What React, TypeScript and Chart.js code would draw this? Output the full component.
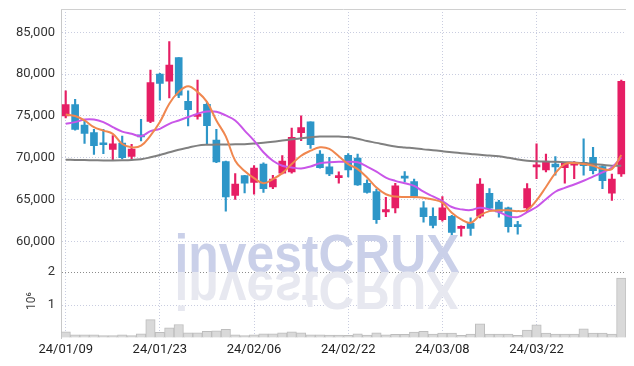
import React, { useEffect, useRef } from 'react';
import { Chart, registerables } from 'chart.js';

Chart.register(...registerables);

const dates = [
  '24/01/09', '24/01/10', '24/01/11', '24/01/12', '24/01/15', '24/01/16', '24/01/17', '24/01/18', '24/01/19', '24/01/22',
  '24/01/23', '24/01/24', '24/01/25', '24/01/26', '24/01/29', '24/01/30', '24/01/31', '24/02/01', '24/02/02', '24/02/05',
  '24/02/06', '24/02/07', '24/02/08', '24/02/13', '24/02/14', '24/02/15', '24/02/16', '24/02/19', '24/02/20', '24/02/21',
  '24/02/22', '24/02/23', '24/02/26', '24/02/27', '24/02/28', '24/02/29', '24/03/04', '24/03/05', '24/03/06', '24/03/07',
  '24/03/08', '24/03/11', '24/03/12', '24/03/13', '24/03/14', '24/03/15', '24/03/18', '24/03/19', '24/03/20', '24/03/21',
  '24/03/22', '24/03/25', '24/03/26', '24/03/27', '24/03/28', '24/03/29', '24/04/01', '24/04/02', '24/04/03', '24/04/04',
];

const openP = [
  75000, 76350, 73900, 73000, 71750, 71000, 71750, 70150, 72700, 74350,
  80000, 79150, 82000, 76750, 74950, 76400, 72100, 69550, 65500, 67850,
  67050, 69250, 66500, 68150, 68300, 73000, 74300, 70450, 68900, 67600,
  70300, 69950, 66950, 65950, 63500, 64000, 67750, 67150, 64000, 63000,
  62600, 63000, 61550, 62150, 63000, 65750, 64700, 64000, 61850, 64000,
  68900, 68550, 69250, 68800, 69100, 69450, 70050, 68950, 65750, 68050,
];
const highP = [
  78000, 77000, 74500, 73400, 73400, 72650, 72600, 71600, 74600, 80500,
  80100, 83900, 82000, 78000, 79300, 76600, 73400, 69600, 68100, 67900,
  69050, 69400, 67900, 70250, 73550, 75000, 74300, 70850, 70050, 68300,
  70500, 70450, 67350, 66250, 65250, 66950, 68350, 67450, 64750, 64000,
  65350, 63100, 61850, 62800, 67500, 66300, 64900, 64100, 62400, 66900,
  71650, 70450, 70150, 69450, 69550, 72250, 71250, 69050, 68050, 79300,
];
const lowP = [
  74750, 73300, 71700, 70400, 70500, 69700, 69850, 69850, 72000, 74200,
  76900, 77150, 77200, 73800, 74600, 71650, 69400, 63600, 65000, 65800,
  65650, 65850, 66300, 68050, 68150, 72050, 71100, 68750, 67850, 66950,
  67700, 66700, 65750, 62150, 62950, 63400, 67100, 65200, 62300, 61600,
  62400, 60800, 60600, 60700, 62800, 63700, 62900, 61100, 60850, 63500,
  67500, 68300, 67900, 66950, 67500, 67900, 68050, 66300, 64900, 67750,
];
const closeP = [
  76350, 73400, 72900, 71450, 71550, 71650, 70000, 71050, 72500, 79000,
  78900, 81100, 77500, 75750, 75150, 73850, 69500, 65300, 66850, 66950,
  68750, 66300, 67450, 69600, 72450, 73600, 71550, 68800, 68050, 67850,
  68550, 66750, 65850, 62600, 63800, 66650, 67550, 65250, 62950, 61900,
  64000, 61050, 61800, 61550, 66850, 63950, 63500, 61750, 61750, 66300,
  69100, 69450, 68900, 69350, 69450, 69050, 68450, 67250, 67450, 79150,
];

const ma5 = [
  75180, 74990, 74460, 73660, 73250, 72860, 71650, 71250, 71450, 72650,
  74270, 76470, 77880, 78560, 77880, 76680, 74460, 72550, 69650, 68400,
  67550, 66950, 67430, 68160, 69240, 70240, 70840, 71250, 71050, 70170,
  69240, 68640, 67640, 66430, 65630, 65350, 65300, 65300, 65200, 65000,
  64620, 63420, 62610, 62210, 63100, 63610, 63700, 63700, 63610, 63750,
  64900, 66500, 68150, 69240, 69360, 69240, 69040, 68640, 68640, 70330,
];
const ma20 = [
  74060, 74260, 74580, 74580, 74260, 73660, 73130, 72860, 72580, 73180,
  73460, 74060, 74460, 74870, 75270, 75540, 75500, 75060, 74460, 73250,
  72050, 70650, 69640, 69040, 68840, 68720, 68960, 69330, 69450, 69520,
  69520, 69450, 68940, 68330, 67630, 67230, 66950, 66630, 65930, 65370,
  64820, 64100, 63820, 63730, 64020, 63820, 63500, 63010, 62890, 63500,
  64100, 65030, 65930, 66390, 66800, 67240, 67740, 68240, 68840, 70050,
];
const ma60 = [
  69760, 69740, 69720, 69700, 69680, 69680, 69700, 69740, 69820, 70050,
  70330, 70650, 70960, 71200, 71450, 71550, 71570, 71580, 71600, 71620,
  71700, 71780, 71900, 72050, 72200, 72340, 72450, 72530, 72540, 72530,
  72480, 72280, 72000, 71780, 71550, 71350, 71230, 71130, 71000, 70900,
  70780, 70650, 70550, 70450, 70350, 70270, 70170, 70000, 69800, 69650,
  69580, 69540, 69520, 69470, 69420, 69360, 69250, 69150, 69050, 69030,
];

const volume = [
  190000, 100000, 100000, 100000, 70000, 70000, 100000, 70000, 130000, 560000,
  170000, 310000, 410000, 160000, 160000, 200000, 220000, 260000, 100000, 70000,
  100000, 130000, 130000, 160000, 190000, 160000, 100000, 100000, 90000, 90000,
  80000, 130000, 90000, 160000, 100000, 110000, 110000, 180000, 200000, 120000,
  150000, 150000, 80000, 120000, 430000, 120000, 120000, 120000, 80000, 240000,
  400000, 150000, 120000, 120000, 120000, 280000, 150000, 150000, 120000, 1820000,
];

const priceTicks = [60000, 65000, 70000, 75000, 80000, 85000];
const volumeTicks = [0, 1000000, 2000000];

const RED = '#e61e64';
const BLUE = '#2d96c8';
const GRID = '#c9cde0';
const FONT = "Roboto, sans-serif";

export default function App() {
  const ref = useRef<HTMLCanvasElement>(null);

  useEffect(() => {
    if (!ref.current) return;
    const colors = closeP.map((c, i) => (c >= openP[i] ? RED : BLUE));
    const wicks = dates.map((_, i) => [lowP[i], highP[i]]);
    const bodies = dates.map((_, i) => [openP[i], closeP[i]]);

    const overlay = {
      id: 'overlay',
      beforeDatasetsDraw(chart: any) {
        const ctx = chart.ctx as CanvasRenderingContext2D;
        const yS = chart.scales.y;
        const text = 'investCRUX';
        ctx.save();
        ctx.font = "bold 54px 'Liberation Sans', Arial, sans-serif";
        const w = ctx.measureText(text).width;
        const sx = 285 / w;
        const cx = chart.width / 2;
        const base = yS.bottom;
        ctx.textAlign = 'center';
        ctx.textBaseline = 'alphabetic';
        ctx.save();
        ctx.translate(cx, base);
        ctx.scale(sx, 1);
        ctx.fillStyle = '#cad0e9';
        ctx.fillText(text, 0, 0);
        ctx.restore();
        ctx.save();
        ctx.translate(cx, base);
        ctx.scale(sx, -1);
        ctx.fillStyle = '#e7e8f0';
        ctx.fillText(text, 0, 0);
        ctx.restore();
        ctx.restore();
      },
      afterDraw(chart: any) {
        const ctx = chart.ctx as CanvasRenderingContext2D;
        const area = chart.chartArea;
        ctx.save();
        ctx.strokeStyle = '#d0d0d0';
        ctx.lineWidth = 1;
        ctx.beginPath();
        ctx.moveTo(area.left, area.top + 0.5);
        ctx.lineTo(area.right, area.top + 0.5);
        ctx.stroke();
        const yv = chart.scales.yv;
        ctx.translate(24, (yv.top + yv.bottom) / 2 - 4);
        ctx.rotate(-Math.PI / 2);
        ctx.fillStyle = '#444';
        ctx.font = '12px Roboto, sans-serif';
        ctx.textAlign = 'center';
        ctx.textBaseline = 'middle';
        ctx.fillText('10\u2076', 0, 0);
        ctx.restore();
      },
    };

    const fitY = (s: any) => {
      s.width = 53;
      s.paddingTop = 0;
      s.paddingBottom = 0;
    };

    const chart = new Chart(ref.current, {
      type: 'bar',
      data: {
        labels: dates,
        datasets: [
          {
            type: 'line',
            data: ma5,
            borderColor: '#f0874f',
            borderWidth: 2,
            pointRadius: 0,
            tension: 0.4,
            yAxisID: 'y',
            order: 0,
          } as any,
          {
            type: 'line',
            data: ma20,
            borderColor: '#c956e8',
            borderWidth: 2,
            pointRadius: 0,
            tension: 0.4,
            yAxisID: 'y',
            order: 0,
          } as any,
          {
            type: 'line',
            data: ma60,
            borderColor: '#808080',
            borderWidth: 2,
            pointRadius: 0,
            tension: 0.4,
            yAxisID: 'y',
            order: 0,
          } as any,
          {
            type: 'bar',
            data: bodies,
            backgroundColor: colors,
            barThickness: 7,
            minBarLength: 2,
            grouped: false,
            yAxisID: 'y',
            order: 1,
          } as any,
          {
            type: 'bar',
            data: wicks,
            backgroundColor: colors,
            barThickness: 1.5,
            grouped: false,
            yAxisID: 'y',
            order: 2,
          } as any,
          {
            type: 'bar',
            data: volume,
            backgroundColor: '#d9d9d9',
            borderColor: '#bdbdbd',
            borderWidth: 1,
            barPercentage: 1,
            categoryPercentage: 1,
            grouped: false,
            yAxisID: 'yv',
            order: 3,
          } as any,
        ],
      },
      options: {
        animation: false,
        responsive: true,
        maintainAspectRatio: false,
        layout: { padding: { top: 1, right: 0, left: 0, bottom: 0 } },
        plugins: { legend: { display: false }, tooltip: { enabled: false } },
        scales: {
          yv: {
            type: 'linear',
            position: 'left',
            stack: 'panel',
            stackWeight: 1,
            min: 0,
            max: 2000000,
            afterBuildTicks: (s: any) => {
              s.ticks = volumeTicks.map((v) => ({ value: v }));
            },
            ticks: {
              autoSkip: false,
              padding: 6,
              color: '#333',
              font: { family: FONT, size: 13 },
              callback: (v: any) => (Number(v) === 0 ? '' : String(Number(v) / 1000000)),
            },
            grid: {
              drawTicks: false,
              color: (c: any) =>
                c.tick && c.tick.value === 2000000 ? '#8c8c8c' : c.tick && c.tick.value === 1000000 ? GRID : 'rgba(0,0,0,0)',
            },
            border: { display: true, color: '#c8c8c8', dash: [1, 2] },
            afterFit: fitY,
          },
          y: {
            type: 'linear',
            position: 'left',
            stack: 'panel',
            stackWeight: 4,
            min: 56300,
            max: 87800,
            afterBuildTicks: (s: any) => {
              s.ticks = priceTicks.map((v) => ({ value: v }));
            },
            ticks: {
              autoSkip: false,
              padding: 6,
              color: '#333',
              font: { family: FONT, size: 13 },
              callback: (v: any) => Number(v).toLocaleString('en-US'),
            },
            grid: { color: GRID, drawTicks: false },
            border: { display: true, color: '#c8c8c8', dash: [1, 2] },
            afterFit: fitY,
          },
          x: {
            type: 'category',
            offset: true,
            grid: {
              offset: false,
              drawTicks: false,
              color: (c: any) => (c.index % 10 === 0 ? GRID : 'rgba(0,0,0,0)'),
            },
            border: { display: false, dash: [1, 2] },
            ticks: {
              autoSkip: false,
              maxRotation: 0,
              minRotation: 0,
              padding: 4,
              color: '#222',
              font: { family: FONT, size: 13 },
              callback: (_v: any, i: number) => (i % 10 === 0 ? dates[i] : ''),
            },
            afterFit: (s: any) => {
              s.height = 20;
              s.paddingLeft = 0;
              s.paddingRight = 0;
            },
          },
        },
      } as any,
      plugins: [overlay],
    });
    return () => chart.destroy();
  }, []);

  return (
    <div style={{ width: 618, height: 350 }}>
      <canvas ref={ref} />
    </div>
  );
}
